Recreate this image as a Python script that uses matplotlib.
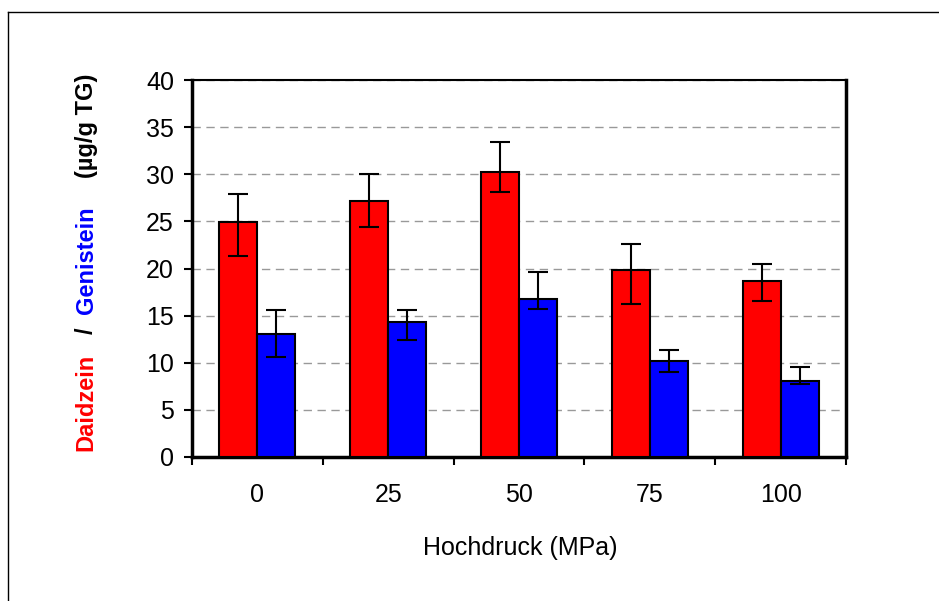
import matplotlib
matplotlib.use("Agg")
import matplotlib.pyplot as plt
import numpy as np

# data
pressure = ["0", "25", "50", "75", "100"]
daidzein = [24.9, 27.2, 30.2, 19.8, 18.7]
daidzein_lo = [3.6, 2.8, 2.1, 3.6, 2.1]
daidzein_hi = [3.0, 2.8, 3.2, 2.8, 1.8]
genistein = [13.0, 14.3, 16.8, 10.2, 8.1]
genistein_lo = [2.4, 1.9, 1.1, 1.2, 0.4]
genistein_hi = [2.6, 1.3, 2.8, 1.15, 1.5]

plt.rcParams['font.family'] = ['Liberation Sans', 'DejaVu Sans']

fig = plt.figure(figsize=(9.39, 6.01), dpi=100)
ax = fig.add_axes([192/939, 1-457/601, (846-192)/939, (457-80)/601])

x = np.arange(len(pressure))
w = 0.29
err_kw = dict(ecolor="black", elinewidth=1.5, capsize=7, capthick=1.5)
ax.bar(x - w/2, daidzein, w, color="#ff0000", edgecolor="black", linewidth=1.5,
       yerr=[daidzein_lo, daidzein_hi], error_kw=err_kw, zorder=3)
ax.bar(x + w/2, genistein, w, color="#0000ff", edgecolor="black", linewidth=1.5,
       yerr=[genistein_lo, genistein_hi], error_kw=err_kw, zorder=3)

ax.set_xlim(-0.5, len(pressure) - 0.5)
ax.set_ylim(0, 40)
ax.set_yticks(np.arange(0, 41, 5))
ax.yaxis.grid(True, linestyle=(0, (6, 4)), color="#999999", linewidth=1, zorder=0)

# category boundary ticks, labels in between
ax.set_xticks(np.arange(-0.5, len(pressure), 1))
ax.set_xticklabels([])
ax.set_xticks(x, minor=True)
ax.set_xticklabels(pressure, minor=True, fontsize=18)
ax.tick_params(axis="x", which="minor", length=0, pad=19)
ax.tick_params(axis="x", which="major", length=6, width=1.5, direction="out")
ax.tick_params(axis="y", length=6, width=1.5, direction="out", labelsize=18, pad=7)

for s in ax.spines.values():
    s.set_linewidth(2.5)
    s.set_color("black")
ax.spines["top"].set_linewidth(1.5)

fig.text(520/939, 1-548/601, "Hochdruck (MPa)", fontsize=18, ha="center", va="center")

# multicolour y label
lab = dict(fontsize=17, fontweight="bold", rotation=90, ha="center")
fig.text(86/939, 1-451/601, "Daidzein", color="#ff0000", va="bottom", **lab)
fig.text(86/939, 1-331/601, "/", color="black", va="center", **lab)
fig.text(86/939, 1-314/601, "Genistein", color="#0000ff", va="bottom", **lab)
fig.text(86/939, 1-178/601, "(µg/g TG)", color="black", va="bottom", **lab)

# outer frame (top and left edges visible)
fig.add_artist(plt.Line2D([8/939, 1], [1-12/601, 1-12/601], color="black", linewidth=1))
fig.add_artist(plt.Line2D([8/939, 8/939], [0, 1-12/601], color="black", linewidth=1))

plt.savefig("out.png", dpi=100)
